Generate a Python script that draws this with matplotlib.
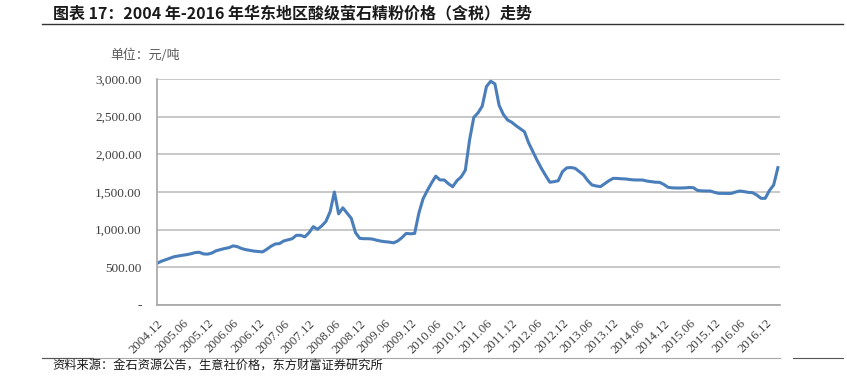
import matplotlib.pyplot as plt
from matplotlib.lines import Line2D

# 月度价格（元/吨），2004.12 起
prices = [
    553, 580, 600, 620, 640, 650, 660, 668, 680, 695,
    700, 678, 675, 690, 720, 735, 750, 760, 785, 775,
    750, 735, 725, 715, 710, 705, 740, 780, 810, 815,
    850, 865, 880, 925, 925, 905, 960, 1040, 1005, 1050,
    1110, 1240, 1500, 1210, 1290, 1220, 1150, 960, 885, 880,
    880, 875, 860, 848, 840, 835, 825, 850, 895, 950,
    945, 950, 1220, 1410, 1520, 1620, 1710, 1660, 1660, 1610,
    1570, 1650, 1700, 1790, 2190, 2490, 2550, 2640, 2900, 2970,
    2935, 2650, 2530, 2456, 2425, 2380, 2340, 2300, 2150, 2035,
    1920, 1814, 1720, 1630, 1637, 1650, 1770, 1820, 1825, 1814,
    1770, 1726, 1650, 1593, 1580, 1571, 1610, 1650, 1681, 1680,
    1675, 1673, 1665, 1660, 1659, 1659, 1645, 1637, 1630, 1628,
    1600, 1562, 1555, 1553, 1553, 1555, 1560, 1557, 1520, 1515,
    1513, 1513, 1495, 1482, 1482, 1480, 1482, 1500, 1513, 1505,
    1495, 1491, 1460, 1416, 1416, 1520, 1593, 1823,
]
tick_labels = [
    '2004.12', '2005.06', '2005.12', '2006.06', '2006.12', '2007.06',
    '2007.12', '2008.06', '2008.12', '2009.06', '2009.12', '2010.06',
    '2010.12', '2011.06', '2011.12', '2012.06', '2012.12', '2013.06',
    '2013.12', '2014.06', '2014.12', '2015.06', '2015.12', '2016.06',
    '2016.12',
]
y_ticks = [0, 500, 1000, 1500, 2000, 2500, 3000]
y_tick_labels = ['-', '500.00', '1,000.00', '1,500.00', '2,000.00',
                 '2,500.00', '3,000.00']

cjk = ['Noto Sans CJK SC', 'DejaVu Sans']
serif = ['Liberation Serif', 'DejaVu Serif']

fig = plt.figure(figsize=(8.47, 3.76), dpi=100)
ax = fig.add_axes([157 / 847, 1 - 305 / 376, (780 - 157) / 847, (305 - 79) / 376])

ax.plot(range(len(prices)), prices, color='#4a7ebb', lw=2.2, solid_joinstyle='round')

ax.set_xlim(0, 147.5)
ax.set_ylim(0, 3000)
ax.set_yticks(y_ticks)
ax.set_yticklabels(y_tick_labels, fontfamily=serif, fontsize=9.5, color='#404040')
ax.set_xticks(range(0, 6 * len(tick_labels), 6))
ax.set_xticklabels(tick_labels, fontfamily=serif, fontsize=9.3, color='#404040',
                   rotation=45, ha='right', va='top', rotation_mode='anchor')
ax.tick_params(axis='y', length=0, pad=11)
ax.tick_params(axis='x', length=0, pad=9)

ax.grid(axis='y', color='#bfbfbf', lw=1.2)
ax.set_axisbelow(True)
for s in ['top', 'right']:
    ax.spines[s].set_visible(False)
for s in ['left', 'bottom']:
    ax.spines[s].set_color('#a6a6a6')
    ax.spines[s].set_linewidth(1.2)

# 标题、单位、来源
fig.text(53 / 847, 1 - 13 / 376, '图表 17：2004 年-2016 年华东地区酸级萤石精粉价格（含税）走势',
         fontfamily=cjk, fontsize=11.5, fontweight='bold', color='#1a1a1a', va='center')
fig.text(110 / 847, 1 - 55 / 376, '单位：元/吨', fontfamily=cjk, fontsize=9.3,
         color='#595959', va='center')
fig.text(52 / 847, 1 - 366 / 376, '资料来源：金石资源公告，生意社价格，东方财富证券研究所',
         fontfamily=cjk, fontsize=8.8, color='#1a1a1a', va='center')

fig.add_artist(Line2D([42 / 847, 843 / 847], [1 - 24 / 376] * 2, color='#333333', lw=1.0))
fig.add_artist(Line2D([42 / 847, 780 / 847], [1 - 358 / 376] * 2, color='#a6a6a6', lw=0.8))
fig.add_artist(Line2D([42 / 847, 93 / 847], [1 - 357.5 / 376] * 2, color='#555555', lw=0.8))
fig.add_artist(Line2D([793 / 847, 843 / 847], [1 - 357.5 / 376] * 2, color='#555555', lw=0.8))

fig.savefig('out.png', dpi=100)
